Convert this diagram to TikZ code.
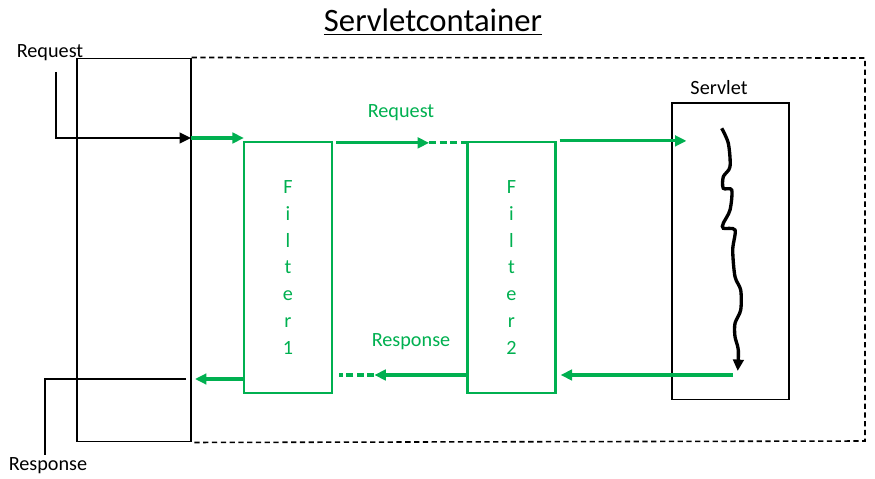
\documentclass[tikz,border=0pt]{standalone}
\usepackage{fontspec}
\setmainfont{Carlito}
\usetikzlibrary{arrows.meta,calc}
\definecolor{mGreen}{RGB}{0,176,80}

\begin{document}
\begin{tikzpicture}[x=0.02cm, y=-0.02cm, >={Triangle[length=6.5pt,width=6pt]},
  font=\fontsize{11.5}{13}\selectfont,
  box/.style={draw, line width=0.6pt, inner sep=0pt},
  filterbox/.style={draw=mGreen, line width=1.3pt, text=mGreen, align=center,
    minimum width=1.76cm, minimum height=5.02cm, font=\fontsize{11.5}{15.3}\selectfont},
  flow/.style={->, draw=mGreen, line width=1.8pt},
  gap/.style={draw=mGreen, line width=1.8pt, dash pattern=on 4pt off 2pt},
  call/.style={->, line width=1.3pt}]
\useasboundingbox (0,0) rectangle (875,479);

% boxes
\node[box, minimum width=2.28cm, minimum height=7.68cm] (lbox) at (134,250) {};
\node[box, minimum width=2.34cm, minimum height=5.94cm] (servlet) at (730.5,251.5) {};
\node[filterbox] (f1) at (288,267.5) {F\\i\\l\\t\\e\\r\\1};
\node[filterbox] (f2) at (511.5,267.5) {F\\i\\l\\t\\e\\r\\2};
\draw[line width=0.9pt, dash pattern=on 3pt off 2pt] (lbox.north east) -- (865,58) -- (865,441) -- (lbox.south east);

% labels
\node (title) at (433,22) {\fontsize{18.6}{22}\selectfont\underline{Servletcontainer}};
\node (reqlabel) at (50,53) {Request};
\node (resplabel) at (48,466) {Response};
\node (servletlabel) at (719,88) {Servlet};
\node[text=mGreen] (greq) at (401,113) {Request};
\node[text=mGreen] (gresp) at (411,342) {Response};

% request
\coordinate (reqstart) at (56,72);
\coordinate (reqend) at (191,138);
\draw[call] (reqstart) |- (reqend);
\draw[flow] (reqend) -- ($(f1.west |- reqend)+(1,0)$);
\draw[flow] ([shift={(3,2)}]f1.north east) -- ++(93,0) coordinate (d1);
\draw[gap] (d1) -- (f2.west |- d1);
\draw[flow] ([shift={(3,0)}]f2.north east) -- ($(servlet.west |- f2.north)+(15,0)$);

% servlet
\draw[call, line width=1.9pt] plot[smooth, tension=0.5] coordinates {(721.7,128.3) (728.3,143.3) (730,166.7)
  (723.3,176.7) (723.3,188.3) (731.7,190) (730,210) (723.3,223.3) (723.3,228.3) (735,230) (732.7,250)
  (735,276.7) (740.7,290) (740.7,310) (735,323.3) (735,336.7) (738.3,350) (737.7,371)};

% response
\coordinate (wend) at (733,375);
\coordinate (resp) at (186,379);
\coordinate (respend) at (45,455);
\draw[flow] (wend) -- ($(f2.east |- wend)+(4,0)$);
\draw[flow] (f2.west |- wend) -- ++(-92,0) coordinate (d2);
\draw[gap] (d2) -- ($(f1.east |- d2)+(6,0)$);
\draw[flow] (f1.west |- resp) -- ($(resp)+(9,0)$);
\draw[line width=1.3pt] (resp) -| (respend);
\end{tikzpicture}
\end{document}
